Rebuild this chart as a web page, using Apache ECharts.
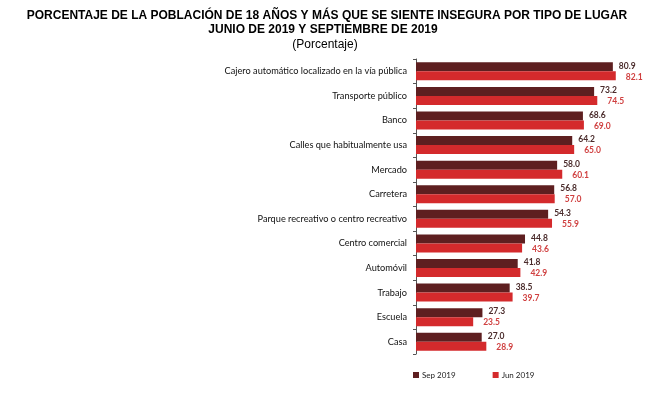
<!DOCTYPE html>
<html><head><meta charset="utf-8">
<script src="https://cdn.jsdelivr.net/npm/echarts@6/dist/echarts.min.js"></script>
<style>html,body{margin:0;padding:0;background:#fff}#c{width:650px;height:393px}</style>
</head><body><div id="c"></div>
<script>
const categories = ["Cajero automático localizado en la vía pública","Transporte público","Banco","Calles que habitualmente usa","Mercado","Carretera","Parque recreativo o centro recreativo","Centro comercial","Automóvil","Trabajo","Escuela","Casa"];
const sep2019 = [80.9,73.2,68.6,64.2,58.0,56.8,54.3,44.8,41.8,38.5,27.3,27.0];
const jun2019 = [82.1,74.5,69.0,65.0,60.1,57.0,55.9,43.6,42.9,39.7,23.5,28.9];
const seriesNames = ["Sep 2019","Jun 2019"];

const chart = echarts.init(document.getElementById('c'), null, {renderer:'canvas'});
const titleFont = "'Liberation Sans', Arial, sans-serif";
const bodyFont = "Lato, 'Open Sans', sans-serif";
chart.setOption({
  animation:false,
  backgroundColor:'#fff',
  title:[
    {text:'PORCENTAJE DE LA POBLACIÓN DE 18 AÑOS Y MÁS QUE SE SIENTE INSEGURA POR TIPO DE LUGAR', left:322, top:5, textAlign:'center', textStyle:{fontFamily:titleFont,fontSize:12,fontWeight:'bold',color:'#000'}},
    {text:'JUNIO DE 2019 Y SEPTIEMBRE DE 2019', left:318, top:19, textAlign:'center', textStyle:{fontFamily:titleFont,fontSize:12,fontWeight:'bold',color:'#000'}},
    {text:'(Porcentaje)', left:320, top:34, textAlign:'center', textStyle:{fontFamily:titleFont,fontSize:12,fontWeight:'normal',color:'#000'}}
  ],
  legend:{left:408, top:366, itemWidth:6, itemHeight:6, itemGap:37, icon:'rect',
    textStyle:{fontFamily:bodyFont, fontSize:8, color:'#222', padding:[0,0,0,-2]},
    data:seriesNames},
  grid:{left:416, top:59, width:219, height:295, containLabel:false},
  xAxis:{type:'value', min:0, max:90, show:false},
  yAxis:{type:'category', data:categories, inverse:true,
    axisLine:{show:true, lineStyle:{color:'#555', width:1}},
    axisTick:{show:true, length:3, lineStyle:{color:'#555'}},
    axisLabel:{fontFamily:bodyFont, fontSize:9.2, color:'#111', margin:9}},
  series:[
    {name:seriesNames[0], type:'bar', data:sep2019, barWidth:9, barGap:'0%',
     itemStyle:{color:'#5e1f20'},
     label:{show:true, position:'right', distance:6, formatter:p=>p.value.toFixed(1), fontFamily:bodyFont, fontSize:8.5, fontWeight:'bold', color:'#4a2b2b', offset:[0,-1]}},
    {name:seriesNames[1], type:'bar', data:jun2019, barWidth:9,
     itemStyle:{color:'#d42a2c'},
     label:{show:true, position:'right', distance:6, formatter:p=>p.value.toFixed(1), fontFamily:bodyFont, fontSize:8.5, fontWeight:'bold', color:'#d04040', offset:[4,1]}}
  ]
});
</script></body></html>
